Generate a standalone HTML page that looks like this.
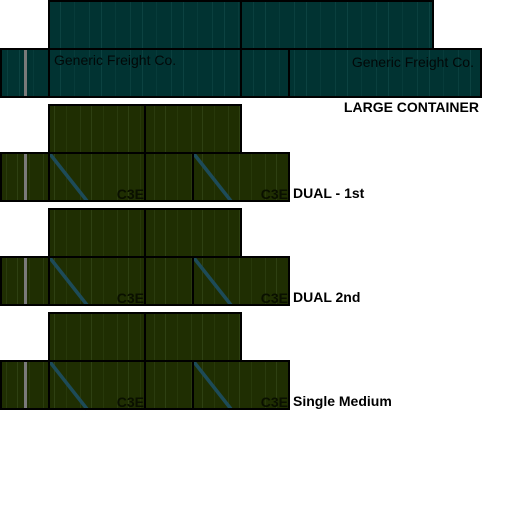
<!DOCTYPE html>
<html><head><meta charset="utf-8"><style>
html,body{margin:0;padding:0;background:#fff;width:512px;height:512px;overflow:hidden}
svg{display:block}
text{font-family:"Liberation Sans",sans-serif}
</style></head><body>
<svg width="512" height="512" viewBox="0 0 512 512">
<defs>
<pattern id="tealStripe" width="41" height="10" patternUnits="userSpaceOnUse">
<rect width="41" height="10" fill="#013332"/>
<rect x="7" width="1" height="10" fill="#0a3f3e"/>
<rect x="19" width="1" height="10" fill="#0c4241"/>
<rect x="33" width="1" height="10" fill="#073b3a"/>
</pattern>
<pattern id="greenStripe" width="37" height="10" patternUnits="userSpaceOnUse">
<rect width="37" height="10" fill="#1f2e02"/>
<rect x="6" width="1" height="10" fill="#2a3b0e"/>
<rect x="17" width="1" height="10" fill="#2e4012"/>
<rect x="29" width="1" height="10" fill="#27380a"/>
</pattern>
</defs>

<g stroke="#000" stroke-width="2">
<rect x="49" y="1" width="384" height="48" fill="url(#tealStripe)"/>
<line x1="241" y1="1" x2="241" y2="49"/>
<rect x="1" y="49" width="480" height="48" fill="url(#tealStripe)"/>
<line x1="49" y1="49" x2="49" y2="97"/>
<line x1="241" y1="49" x2="241" y2="97"/>
<line x1="289" y1="49" x2="289" y2="97"/>
<rect x="24" y="50" width="3" height="46" fill="#7a7a7a" stroke="none"/>
</g>
<text x="54" y="65" font-size="14" fill="#020808">Generic Freight Co.</text>
<text x="474" y="67" font-size="14" fill="#020808" text-anchor="end">Generic Freight Co.</text>
<text x="479" y="112" font-size="14" font-weight="bold" fill="#000" text-anchor="end">LARGE CONTAINER</text>

<g id="blocks"></g>
</svg>
<script>
const blockOffsets=[105,209,313];
const blockLabels=["DUAL - 1st","DUAL 2nd","Single Medium"];
const ns="http://www.w3.org/2000/svg";
const g=document.getElementById('blocks');
function mk(tag,attrs,parent){const e=document.createElementNS(ns,tag);for(const k in attrs)e.setAttribute(k,attrs[k]);parent.appendChild(e);return e;}
blockOffsets.forEach((y,i)=>{
  const grp=mk('g',{},g);
  
  
  const top=mk('rect',{x:49,y:y,width:192,height:48,fill:'url(#greenStripe)',stroke:'#000','stroke-width':2},grp);
  
  
  mk('line',{x1:145,y1:y,x2:145,y2:y+48,stroke:'#000','stroke-width':2},grp);
  const side=mk('rect',{x:1,y:y+48,width:288,height:48,fill:'url(#greenStripe)',stroke:'#000','stroke-width':2},grp);
  
  
  const bar=mk('rect',{x:24,y:y+49,width:3,height:46,fill:'#7a7a7a'},grp);
  
  
  [49,193].forEach(x=>{
    const d=mk('line',{x1:x+1,y1:y+49,x2:x+38,y2:y+96,stroke:'#1d4b58','stroke-width':3.5},grp);
    
    
  });
  [49,145,193].forEach(x=>mk('line',{x1:x,y1:y+48,x2:x,y2:y+96,stroke:'#000','stroke-width':2},grp));
  mk('rect',{x:1,y:y+48,width:288,height:48,fill:'none',stroke:'#000','stroke-width':2},grp);
  [144,288].forEach(x=>{
    const t=mk('text',{x:x,y:y+94,'font-size':14,'font-weight':'bold',fill:'#0a1000','text-anchor':'end'},grp);
    t.textContent='C3E';
    
    
  });
  const lab=mk('text',{x:293,y:y+93,'font-size':14,'font-weight':'bold',fill:'#000'},grp);
  lab.textContent=blockLabels[i];
  
  
});
</script>
</body></html>
